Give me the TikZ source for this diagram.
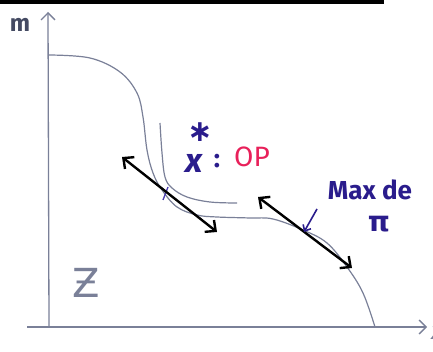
\documentclass[tikz,border=0pt]{standalone}
\usepackage{fontspec}
\setmainfont{Fira Sans}
\newfontfamily\dejavu{DejaVu Sans}
\usetikzlibrary{arrows.meta}
\definecolor{axiscol}{HTML}{7A8098}
\definecolor{labelcol}{HTML}{444A62}
\definecolor{ink}{HTML}{2A1C8C}
\definecolor{inklight}{HTML}{4A3CB0}
\definecolor{pinkred}{HTML}{E8205A}
\tikzset{
  axisline/.style={draw=axiscol, line width=1.3pt},
  curveline/.style={draw=axiscol, line width=1.2pt},
  dblarrow/.style={draw=black, line width=2.4pt, {Straight Barb[length=8pt,width=15pt]}-{Straight Barb[length=8pt,width=15pt]}},
  inktext/.style={text=ink, inner sep=0pt},
}
\begin{document}
\begin{tikzpicture}[x=1pt,y=-1pt]
\useasboundingbox (0,0) rectangle (433,352);
\clip (0,0) rectangle (433,352);
% top rule
\draw[line width=3.5pt] (0,2) -- (384,2);
% axes
\coordinate (ybot) at (49,327);
\coordinate (ytop) at (48,12);
\coordinate (xleft) at (27,327);
\coordinate (xright) at (427,327);
\draw[axisline, -{Straight Barb[length=7pt,width=14pt]}] (ybot) -- (ytop);
\draw[axisline, -{Straight Barb[length=7pt,width=14pt]}] (xleft) -- (xright);
\node[text=labelcol, font=\bfseries\fontsize{24}{24}\selectfont, inner sep=0pt] (mlab) at (20,25) {m};
\node[text=axiscol, font=\fontsize{24}{24}\selectfont\itshape, inner sep=0pt] (xlab) at (437,333) {x};
% main frontier curve
\draw[curveline] plot[smooth, tension=0.6] coordinates {(49,55) (90,58) (120,72) (137,93) (143,117) (147,150) (153,173) (162,190) (177,207) (197,215) (217,217) (250,218) (273,219) (303,230) (327,243) (347,267) (363,293) (375,327)};
% second (convex) curve
\draw[curveline] plot[smooth, tension=0.6] coordinates {(160,123) (162,153) (165,177) (172,188) (187,197) (210,202) (237,203)};
% tangent mark
\coordinate (tk1) at (168,187);
\coordinate (tk2) at (163,200);
\draw[draw=inklight, line width=1.3pt] (tk1) -- (tk2);
% double arrows
\coordinate (a1s) at (122,157);
\coordinate (a1e) at (217,232);
\draw[dblarrow] (a1s) -- (a1e);
\coordinate (a2s) at (258,197);
\coordinate (a2e) at (352,268);
\draw[dblarrow] (a2s) -- (a2e);
% labels
\node[inktext, font=\dejavu\bfseries\fontsize{30}{30}\selectfont] (star) at (200,132) {∗};
\node[inktext, font=\bfseries\fontsize{34}{34}\selectfont\itshape] (xs) at (194,163) {x};
\node[inktext, font=\bfseries\fontsize{26}{26}\selectfont] (colon) at (217,161) {:};
\node[text=pinkred, inner sep=0pt, font=\fontsize{28}{28}\selectfont] (op) at (252,157) {OP};
\node[inktext, font=\bfseries\fontsize{26}{26}\selectfont] (maxde) at (370,190) {Max de};
\node[inktext, font=\dejavu\bfseries\fontsize{28}{28}\selectfont] (pi) at (379,224) {π};
\coordinate (ptail) at (317,209);
\coordinate (ptip) at (304,232);
\draw[draw=ink, line width=1.6pt, -{Straight Barb[length=5pt,width=9pt]}] (ptail) -- (ptip);
\node[text=axiscol, inner sep=0pt, font=\dejavu\fontsize{40}{40}\selectfont] (zlab) at (86,283) {Ƶ};
\end{tikzpicture}
\end{document}
